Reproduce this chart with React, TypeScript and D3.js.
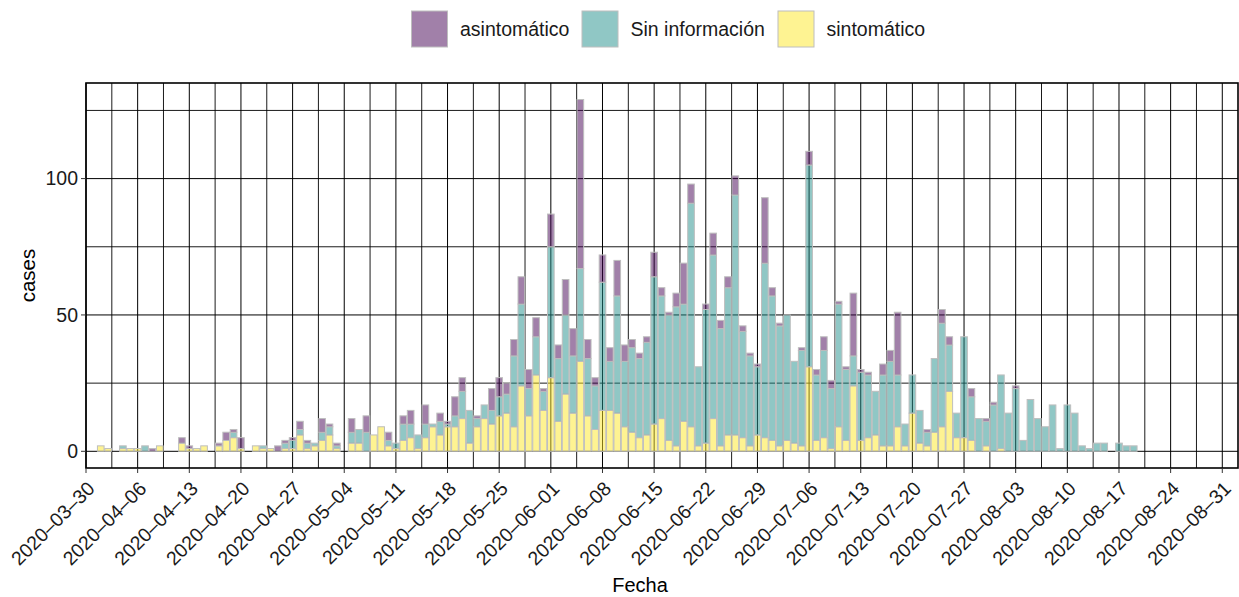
import React from "react";
import * as d3 from "d3";

// ---- data (one value per day, starting 2020-03-30) ----
const START_DATE = "2020-03-30";
const sintomatico = [
  0, 0, 2, 1, 0, 1, 1, 1, 0, 0, 2, 0, 0, 3, 1, 1, 2, 0, 2, 4,
  5, 1, 0, 2, 1, 1, 0, 1, 1, 6, 1, 2, 4, 6, 1, 0, 3, 3, 0, 6,
  9, 2, 1, 4, 5, 1, 5, 9, 6, 9, 9, 12, 3, 9, 12, 10, 13, 14, 9, 24,
  13, 28, 15, 27, 11, 21, 14, 33, 13, 8, 15, 15, 14, 9, 7, 5, 6, 10, 12, 4,
  2, 11, 9, 2, 3, 12, 2, 6, 6, 5, 2, 6, 5, 4, 2, 4, 3, 2, 31, 4,
  5, 1, 9, 4, 24, 4, 5, 6, 2, 2, 9, 2, 14, 3, 2, 7, 9, 22, 5, 5,
  4, 0, 2, 0, 1, 0, 0, 0, 0, 0, 0, 0, 0, 0, 0, 0, 0, 0, 0, 0,
  0, 0, 0,
];
const sinInformacion = [
  0, 0, 0, 0, 0, 1, 0, 0, 2, 0, 0, 0, 0, 0, 0, 0, 0, 0, 0, 0,
  2, 0, 0, 0, 1, 0, 0, 2, 3, 2, 2, 1, 3, 3, 1, 0, 4, 5, 7, 0,
  0, 2, 2, 6, 5, 5, 5, 1, 5, 1, 4, 10, 12, 3, 5, 5, 7, 7, 26, 30,
  10, 14, 7, 48, 23, 29, 21, 34, 21, 16, 47, 18, 43, 24, 31, 29, 34, 54, 45, 46,
  51, 43, 82, 29, 49, 60, 43, 54, 88, 39, 33, 25, 64, 53, 44, 46, 30, 35, 74, 24,
  32, 22, 45, 26, 11, 25, 23, 16, 26, 31, 19, 8, 14, 12, 5, 27, 38, 17, 9, 37,
  16, 12, 9, 17, 27, 14, 23, 4, 19, 12, 9, 17, 1, 17, 14, 2, 1, 3, 3, 0,
  3, 2, 2,
];
const asintomatico = [
  0, 0, 0, 0, 0, 0, 0, 0, 0, 1, 0, 0, 0, 2, 1, 0, 0, 0, 1, 3,
  1, 4, 0, 0, 0, 0, 2, 1, 1, 3, 1, 0, 5, 1, 1, 0, 5, 0, 6, 0,
  0, 3, 0, 3, 5, 0, 7, 0, 3, 1, 7, 5, 0, 1, 0, 8, 7, 4, 6, 10,
  7, 7, 1, 12, 5, 13, 10, 62, 7, 3, 10, 5, 13, 6, 3, 2, 2, 9, 3, 1,
  5, 15, 7, 0, 2, 8, 3, 4, 7, 2, 1, 1, 24, 3, 1, 0, 0, 1, 5, 2,
  5, 3, 1, 1, 23, 1, 1, 0, 4, 4, 23, 0, 0, 0, 1, 0, 5, 3, 0, 0,
  3, 0, 1, 1, 0, 0, 1, 0, 0, 0, 0, 0, 0, 0, 0, 0, 0, 0, 0, 0,
  0, 0, 0,
];
const seriesKeys = ["sintomatico", "sinInformacion", "asintomatico"];
const legendKeys = ["asintomatico", "sinInformacion", "sintomatico"];
const legendLabels = ["asintomático", "Sin información", "sintomático"];
const seriesColors = ["#FDE725", "#21908C", "#440154"];
const xTickLabels = [
  "2020-03-30", "2020-04-06", "2020-04-13", "2020-04-20", "2020-04-27",
  "2020-05-04", "2020-05-11", "2020-05-18", "2020-05-25", "2020-06-01",
  "2020-06-08", "2020-06-15", "2020-06-22", "2020-06-29", "2020-07-06",
  "2020-07-13", "2020-07-20", "2020-07-27", "2020-08-03", "2020-08-10",
  "2020-08-17", "2020-08-24", "2020-08-31",
];
const yTickValues = [0, 50, 100];
const yMinorValues = [25, 75, 125];

const W = 1239;
const H = 597;
const FONT = "'Liberation Sans', Arial, Helvetica, sans-serif";
const TXT = 19.5;

export default function App() {
  const parse = d3.utcParse("%Y-%m-%d");
  const start = parse(START_DATE) as Date;
  const dates = d3.utcDay.range(start, d3.utcDay.offset(start, sintomatico.length));
  const rows = dates.map((date, i) => ({
    date,
    sintomatico: sintomatico[i],
    sinInformacion: sinInformacion[i],
    asintomatico: asintomatico[i],
  }));
  const stacked = d3.stack<any>().keys(seriesKeys)(rows);
  const color = d3.scaleOrdinal<string, string>().domain(seriesKeys).range(seriesColors);

  const panel = { left: 86, right: 1238, top: 83, bottom: 468 };
  const dayMs = 864e5;
  const x = d3
    .scaleUtc()
    .domain([start, new Date(+start + 156.13 * dayMs)])
    .range([panel.left, panel.right]);
  const y = d3.scaleLinear().domain([0, 100]).range([451.3, 178.6]);
  const dayW = x(new Date(+start + dayMs)) - x(start);
  const barW = dayW * 0.9;

  const ticks = xTickLabels.map((s) => parse(s) as Date);
  const minorX = ticks
    .map((t) => new Date(+t + 3.5 * dayMs))
    .filter((t) => x(t) < panel.right);

  const legendX = [411.5, 582, 778];

  return (
    <svg width={W} height={H} style={{ display: "block", position: "absolute", left: 0, top: 0 }} fontFamily={FONT}>
      <rect x={0} y={0} width={W} height={H} fill="#ffffff" />
      {/* grid */}
      <g stroke="#000" fill="none">
        {yMinorValues.map((v) => (
          <line key={"ym" + v} x1={panel.left} x2={panel.right} y1={y(v)} y2={y(v)} strokeWidth={0.9} />
        ))}
        {yTickValues.map((v) => (
          <line key={"y" + v} x1={panel.left} x2={panel.right} y1={y(v)} y2={y(v)} strokeWidth={1} />
        ))}
        {minorX.map((t, i) => (
          <line key={"xm" + i} x1={x(t)} x2={x(t)} y1={panel.top} y2={panel.bottom} strokeWidth={0.9} />
        ))}
        {ticks.map((t, i) => (
          <line key={"x" + i} x1={x(t)} x2={x(t)} y1={panel.top} y2={panel.bottom} strokeWidth={1} />
        ))}
      </g>
      {/* bars */}
      <g>
        {stacked.map((layer) => (
          <g key={layer.key}>
            {layer.map((d: any, i: number) => {
              const h = y(d[0]) - y(d[1]);
              if (h <= 0) return null;
              return (
                <rect
                  key={i}
                  x={x(d.data.date) - barW / 2}
                  y={y(d[1])}
                  width={barW}
                  height={h}
                  fill={color(layer.key)}
                  fillOpacity={0.5}
                  stroke="#bebebe"
                  strokeWidth={1}
                />
              );
            })}
          </g>
        ))}
      </g>
      {/* panel border */}
      <rect
        x={panel.left}
        y={panel.top}
        width={panel.right - panel.left}
        height={panel.bottom - panel.top}
        fill="none"
        stroke="#000"
        strokeWidth={1.6}
      />
      {/* y axis */}
      <g>
        {yTickValues.map((v) => (
          <g key={v}>
            <line x1={panel.left - 5} x2={panel.left} y1={y(v)} y2={y(v)} stroke="#333" strokeWidth={1} />
            <text x={panel.left - 8} y={y(v)} dy="0.35em" textAnchor="end" fontSize={TXT} fill="#1a1a1a">
              {v}
            </text>
          </g>
        ))}
      </g>
      {/* x axis */}
      <g>
        {ticks.map((t, i) => (
          <g key={i}>
            <line x1={x(t)} x2={x(t)} y1={panel.bottom} y2={panel.bottom + 5} stroke="#333" strokeWidth={1} />
            <text
              transform={`translate(${x(t)},${panel.bottom + 12}) rotate(-45)`}
              textAnchor="end"
              dy="0.72em"
              fontSize={TXT}
              fill="#1a1a1a"
            >
              {xTickLabels[i].replace(/-/g, "\u2013")}
            </text>
          </g>
        ))}
      </g>
      {/* axis titles */}
      <text x={640} y={592} textAnchor="middle" fontSize={20} fill="#000">
        Fecha
      </text>
      <text transform={`translate(35,${(panel.top + panel.bottom) / 2}) rotate(-90)`} textAnchor="middle" fontSize={20.5} fill="#000">
        cases
      </text>
      {/* legend */}
      <g>
        {legendKeys.map((k, i) => {
          const kx = legendX[i];
          return (
            <g key={k}>
              <rect x={kx} y={11} width={36} height={36} fill={color(k)} fillOpacity={0.5} stroke="#bebebe" strokeWidth={1} />
              <text x={kx + 48.5} y={29} dy="0.35em" fontSize={TXT} fill="#1a1a1a">
                {legendLabels[i]}
              </text>
            </g>
          );
        })}
      </g>
    </svg>
  );
}
